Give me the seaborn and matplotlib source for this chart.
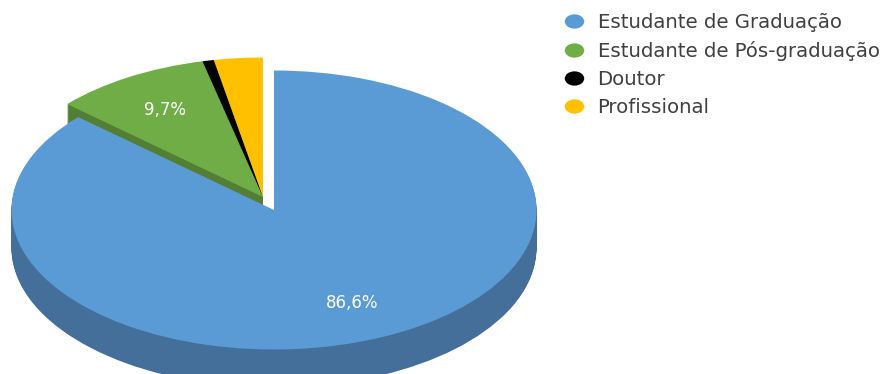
import matplotlib
matplotlib.use("Agg")
import matplotlib.pyplot as plt
from matplotlib.lines import Line2D
from matplotlib.markers import MarkerStyle
from matplotlib.path import Path
from matplotlib.transforms import Affine2D
import seaborn as sns

# Perfil dos respondentes (%)
categories = ["Estudante de Graduação", "Estudante de Pós-graduação", "Doutor", "Profissional"]
shares = [86.6, 9.7, 0.7, 3.0]

top_colors = ["#5B9BD5", "#70AD47", "#000000", "#FFC000"]
wall_colors = ["#436F9A", "#527F35", "#527F35", "#527F35"]

W, H = 883, 374
RX, RY = 262.5, 139.5      # radii of the tilted disc, in pixels
CX, CY = 274.0, 210.0      # centre of the main slice, in pixels
GAP_X, GAP_Y = 11.0, 13.0  # how far the remaining slices are pulled out
DEPTH = 38                 # thickness of the disc, in pixels

sns.set_theme(style="white")
fig = plt.figure(figsize=(W / 100, H / 100), dpi=100, facecolor="white")
ax = fig.add_axes([0, 0, 1, 1])


def pct_label(low, high):
    def fmt(p):
        return f"{p:.1f}%".replace(".", ",") if low < p < high else ""
    return fmt


def draw_slices(colors, center, low=None, high=None):
    kwargs = {}
    if low is not None:
        kwargs = dict(autopct=pct_label(low, high), pctdistance=0.73,
                      textprops=dict(color="white", fontsize=12, family="DejaVu Sans"))
    ax.pie(shares, colors=colors, center=center, radius=1, startangle=90,
           counterclock=False, wedgeprops=dict(linewidth=0), **kwargs)


def only(colors, keep):
    return [c if i in keep else "none" for i, c in enumerate(colors)]


main = {0}
rest = {1, 2, 3}
rest_center = (-GAP_X / RX, GAP_Y / RY)

# Pulled-out group first, so the main slice overlaps its wall
for d in range(DEPTH, 0, -1):
    draw_slices(only(wall_colors, rest), (rest_center[0], rest_center[1] - d / RY))
draw_slices(only(top_colors, rest), rest_center, 5, 50)

for d in range(DEPTH, 0, -1):
    draw_slices(only(wall_colors, main), (0, -d / RY))
draw_slices(only(top_colors, main), (0, 0), 50, 100)

ax.set_aspect("auto")
ax.set_xlim(-CX / RX, (W - CX) / RX)
ax.set_ylim(-(H - CY) / RY, CY / RY)

# Flattened round markers for the legend
oval = MarkerStyle(Path.unit_circle().transformed(Affine2D().scale(1.36, 1.0)))
handles = [Line2D([], [], linestyle="none", marker=oval, markersize=14,
                  markerfacecolor=c, markeredgewidth=0) for c in top_colors]
fig.legend(handles, categories, loc="upper left",
           bbox_to_anchor=(563 / W, 1 - 13 / H), frameon=False,
           prop=dict(family="DejaVu Sans", size=14.2), labelcolor="#404040",
           borderpad=0, borderaxespad=0, labelspacing=0.46,
           handlelength=1.1, handletextpad=0.65)

fig.savefig("out.png", dpi=100, facecolor="white")
